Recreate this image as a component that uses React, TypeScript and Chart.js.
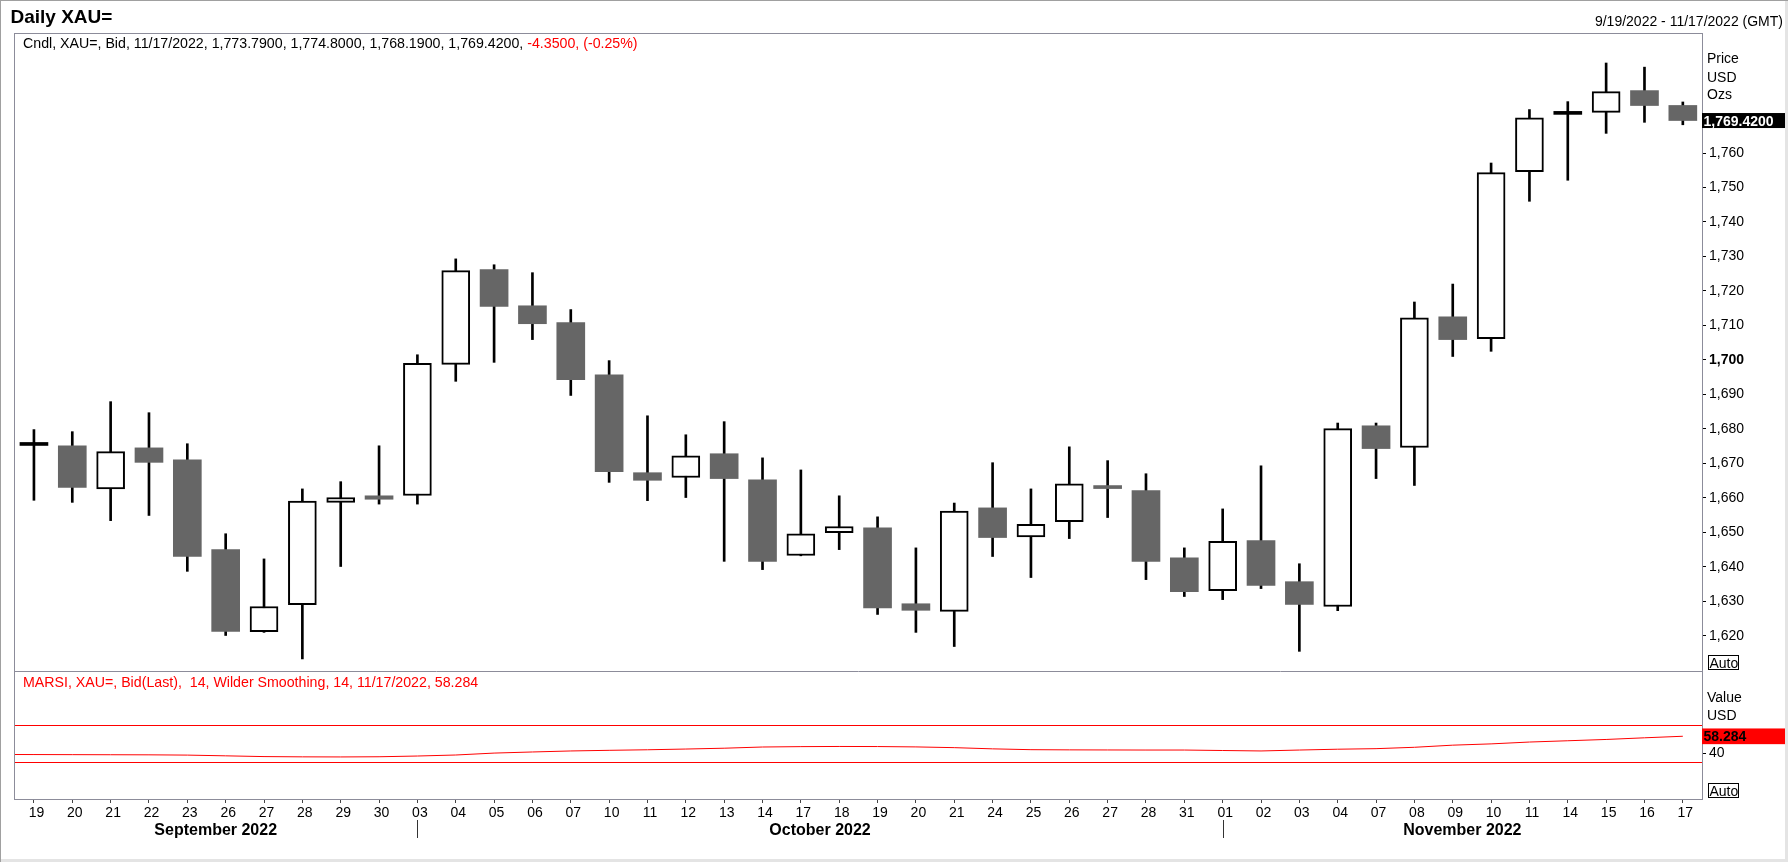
import React, { useEffect, useRef } from "react";
import { Chart, registerables } from "chart.js";

Chart.register(...registerables);

const FONT = '"Liberation Sans", Arial, Helvetica, sans-serif';
const RED = "#ff0000";
const GRAY_BODY = "#666666";

const dayLabels = [
  "19", "20", "21", "22", "23", "26", "27", "28", "29", "30",
  "03", "04", "05", "06", "07", "10", "11", "12", "13", "14", "17", "18", "19", "20", "21",
  "24", "25", "26", "27", "28", "31",
  "01", "02", "03", "04", "07", "08", "09", "10", "11", "14", "15", "16", "17",
];
const monthNames = ["September 2022", "October 2022", "November 2022"];
const monthStarts = [0, 10, 31];
const lastDate = "11/17/2022";

const opens = [
  1675.4, 1675.1, 1662.6, 1674.5, 1671.0, 1645.0, 1621.2, 1629.0, 1658.7, 1660.6,
  1660.7, 1698.7, 1726.2, 1715.7, 1710.8, 1695.7, 1667.3, 1665.9, 1672.8, 1665.2,
  1643.3, 1649.9, 1651.3, 1629.3, 1627.1, 1657.1, 1648.7, 1653.1, 1663.5, 1662.1,
  1642.6, 1633.1, 1647.6, 1635.7, 1628.5, 1680.9, 1674.6, 1712.5, 1706.2, 1754.6,
  1771.4, 1771.8, 1778.1, 1773.79,
];
const highs = [
  1679.8, 1679.2, 1687.9, 1684.7, 1675.7, 1649.6, 1642.3, 1662.6, 1664.7, 1675.1,
  1701.5, 1729.3, 1727.6, 1725.3, 1714.6, 1699.8, 1683.8, 1678.3, 1682.1, 1671.6,
  1668.1, 1660.6, 1654.5, 1645.5, 1658.5, 1670.2, 1662.6, 1674.8, 1670.8, 1667.0,
  1645.5, 1656.8, 1669.3, 1640.9, 1681.7, 1681.7, 1716.8, 1722.0, 1757.1, 1772.6,
  1774.9, 1786.1, 1784.9, 1774.8,
];
const lows = [
  1659.3, 1658.7, 1653.4, 1654.9, 1638.7, 1620.1, 1621.0, 1613.3, 1640.1, 1658.2,
  1658.2, 1693.8, 1699.3, 1705.9, 1689.7, 1664.5, 1659.2, 1660.1, 1641.6, 1639.2,
  1643.2, 1645.0, 1626.2, 1621.0, 1616.9, 1643.0, 1636.9, 1648.2, 1654.3, 1636.3,
  1631.4, 1630.5, 1633.7, 1615.5, 1627.3, 1665.6, 1663.6, 1701.0, 1702.5, 1746.0,
  1752.1, 1765.7, 1768.9, 1768.19,
];
const closes = [
  1675.2, 1663.0, 1673.4, 1670.3, 1643.0, 1621.3, 1628.5, 1659.1, 1660.1, 1659.6,
  1699.0, 1725.9, 1715.5, 1710.5, 1694.3, 1667.6, 1665.1, 1672.2, 1665.6, 1641.6,
  1649.6, 1651.7, 1628.1, 1627.4, 1656.2, 1648.5, 1652.3, 1664.1, 1662.7, 1641.6,
  1632.8, 1647.4, 1634.6, 1629.1, 1680.1, 1674.3, 1712.2, 1705.9, 1754.3, 1770.2,
  1771.2, 1777.8, 1773.77, 1769.42,
];

const marsiPrior = 38.5;
const marsi = [
  38.4, 38.3, 38.2, 38.1, 37.8, 37.0, 36.2, 35.9, 35.8, 36.0,
  36.8, 37.9, 40.0, 41.2, 42.3, 43.0, 43.6, 44.4, 45.3, 46.6,
  47.0, 47.2, 47.1, 46.7, 45.9, 44.6, 43.7, 43.5, 43.4, 43.3,
  43.3, 42.8, 42.3, 43.3, 44.2, 44.8, 46.3, 48.6, 50.0, 52.0,
  53.4, 54.8, 56.6, 58.284,
];

const priceTicks = [1620, 1630, 1640, 1650, 1660, 1670, 1680, 1690, 1700, 1710, 1720, 1730, 1740, 1750, 1760];
const marsiTicks = [40];
const marsiLevels = [70, 30];

const fmt = (v: number, d: number) =>
  v.toLocaleString("en-US", { minimumFractionDigits: d, maximumFractionDigits: d });

const overlayPlugin = {
  id: "overlay",
  beforeDatasetsDraw(chart: any) {
    const { ctx, chartArea: ca, scales } = chart;
    const r = scales.rsi;
    ctx.save();
    ctx.strokeStyle = RED;
    ctx.lineWidth = 1;
    for (const v of marsiLevels) {
      const y = Math.round(r.getPixelForValue(v)) + 0.5;
      ctx.beginPath();
      ctx.moveTo(ca.left, y);
      ctx.lineTo(ca.right, y);
      ctx.stroke();
    }
    ctx.restore();
  },
  afterDraw(chart: any) {
    const { ctx, chartArea: ca, scales } = chart;
    const xs = scales.x, yp = scales.y, yr = scales.rsi;
    const W = chart.width, H = chart.height;
    const n = closes.length - 1;
    ctx.save();

    // outer frame
    ctx.fillStyle = "#e4e4e4";
    ctx.fillRect(W - 3, 0, 3, H);
    ctx.fillRect(0, H - 3, W, 3);
    ctx.fillStyle = "#a0a0a0";
    ctx.fillRect(0, 0, W, 1);
    ctx.fillRect(0, 0, 1, H);

    // plot frame + pane separator
    ctx.strokeStyle = "#8c8c9a";
    ctx.lineWidth = 1;
    const L = Math.round(ca.left) + 0.5, T = Math.round(ca.top) + 0.5;
    const R = Math.round(ca.right) + 0.5, B = Math.round(ca.bottom) + 0.5;
    ctx.strokeRect(L, T, R - L, B - T);
    const sy = Math.round(yr.top) + 0.5;
    ctx.beginPath();
    ctx.moveTo(L, sy);
    ctx.lineTo(R, sy);
    ctx.stroke();

    ctx.textBaseline = "alphabetic";
    ctx.textAlign = "left";

    // title
    ctx.fillStyle = "#000";
    ctx.font = `bold 19px ${FONT}`;
    ctx.fillText("Daily XAU=", 10.5, 23.3);

    // date range
    ctx.font = `14px ${FONT}`;
    ctx.textAlign = "right";
    ctx.fillText("9/19/2022 - 11/17/2022 (GMT)", W - 5, 25.5);
    ctx.textAlign = "left";

    // price legend
    const chg = closes[n] - closes[n - 1];
    const pct = (chg / closes[n - 1]) * 100;
    const legBlack = `Cndl, XAU=, Bid, ${lastDate}, ${fmt(opens[n], 4)}, ${fmt(highs[n], 4)}, ${fmt(lows[n], 4)}, ${fmt(closes[n], 4)}, `;
    const legRed = `${fmt(chg, 4)}, (${pct.toFixed(2)}%)`;
    ctx.font = `14.2px ${FONT}`;
    ctx.fillStyle = "#000";
    ctx.fillText(legBlack, 23, ca.top + 14.7);
    const lw = ctx.measureText(legBlack).width;
    ctx.fillStyle = RED;
    ctx.fillText(legRed, 23 + lw, ca.top + 14.7);

    // RSI legend
    ctx.fillStyle = RED;
    ctx.fillText(`MARSI, XAU=, Bid(Last),  14, Wilder Smoothing, 14, ${lastDate}, ${marsi[n].toFixed(3)}`, 23, yr.top + 16);

    // right axis headers
    ctx.font = `14px ${FONT}`;
    const ax = ca.right + 5;
    ctx.fillStyle = "#000";
    ctx.fillText("Price", ax, ca.top + 30.3);
    ctx.fillText("USD", ax, ca.top + 48.7);
    ctx.fillText("Ozs", ax, ca.top + 66.3);
    ctx.fillText("Value", ax, yr.top + 31.3);
    ctx.fillText("USD", ax, yr.top + 49);

    // last price box
    const yc = yp.getPixelForValue(closes[n]);
    ctx.fillStyle = "#000";
    ctx.fillRect(ca.right, yc - 7.5, 83, 15);
    ctx.fillStyle = "#fff";
    ctx.font = `bold 14px ${FONT}`;
    ctx.fillText(fmt(closes[n], 4), ca.right + 1.5, yc + 5.2);

    // last RSI box
    const rc = yr.getPixelForValue(marsi[n]);
    ctx.fillStyle = RED;
    ctx.fillRect(ca.right, rc - 7.8, 83, 15.7);
    ctx.fillStyle = "#000";
    ctx.fillText(marsi[n].toFixed(3), ca.right + 1.5, rc + 5.2);

    // Auto boxes
    ctx.font = `14px ${FONT}`;
    for (const s of [yp, yr]) {
      const bx = Math.round(ca.right) + 6.5;
      const by = Math.round(s.bottom) - 15.5;
      ctx.fillStyle = "#fff";
      ctx.fillRect(bx, by, 30, 14);
      ctx.strokeStyle = "#000";
      ctx.strokeRect(bx, by, 30, 14);
      ctx.fillStyle = "#000";
      ctx.fillText("Auto", bx + 1, s.bottom - 3.3);
    }

    // month labels and separators
    ctx.font = `bold 16px ${FONT}`;
    ctx.textAlign = "center";
    ctx.strokeStyle = "#333";
    monthNames.forEach((m, k) => {
      const start = k === 0 ? ca.left : xs.getPixelForValue(monthStarts[k]);
      const end = k + 1 < monthNames.length ? xs.getPixelForValue(monthStarts[k + 1]) : ca.right;
      ctx.fillStyle = "#000";
      ctx.fillText(m, (start + end) / 2, ca.bottom + 35.5);
      if (k > 0) {
        const px = Math.round(start) + 0.5;
        ctx.beginPath();
        ctx.moveTo(px, ca.bottom + 21);
        ctx.lineTo(px, ca.bottom + 39);
        ctx.stroke();
      }
    });

    ctx.restore();
  },
};

export default function App() {
  const ref = useRef<HTMLCanvasElement | null>(null);

  useEffect(() => {
    if (!ref.current) return;
    const bodyColors = opens.map((o, i) =>
      Math.abs(closes[i] - o) < 0.5 ? "#000" : closes[i] > o ? "#fff" : GRAY_BODY
    );
    const bodyBorders = opens.map((o, i) => (closes[i] - o >= 0.5 ? 2 : 0));

    const chart = new Chart(ref.current, {
      type: "bar",
      data: {
        datasets: [
          {
            type: "bar",
            label: "body",
            data: opens.map((o, i) => ({ x: i, y: [o, closes[i]] })) as any,
            backgroundColor: bodyColors,
            borderColor: "#000",
            borderWidth: bodyBorders,
            borderSkipped: false,
            barThickness: 28,
            minBarLength: 3,
            grouped: false,
            xAxisID: "x",
            yAxisID: "y",
          } as any,
          {
            type: "bar",
            label: "wick",
            data: lows.map((l, i) => ({ x: i, y: [l, highs[i]] })) as any,
            backgroundColor: "#000",
            borderWidth: 0,
            barThickness: 2,
            grouped: false,
            xAxisID: "x",
            yAxisID: "y",
          } as any,
          {
            type: "line",
            label: "marsi",
            data: [{ x: -1, y: marsiPrior }, ...marsi.map((v, i) => ({ x: i, y: v }))] as any,
            borderColor: RED,
            borderWidth: 1,
            pointRadius: 0,
            tension: 0,
            xAxisID: "x",
            yAxisID: "rsi",
          } as any,
        ],
      },
      options: {
        animation: false,
        responsive: false,
        events: [],
        layout: { padding: { left: 14, top: 33, right: 0, bottom: 0 } },
        plugins: { legend: { display: false }, tooltip: { enabled: false } },
        scales: {
          x: {
            type: "linear",
            position: "bottom",
            min: -0.52,
            max: 43.5,
            offset: false,
            grid: { offset: false, drawOnChartArea: false, tickLength: 4, color: "#444" },
            border: { display: false },
            afterBuildTicks: (s: any) => {
              s.ticks = dayLabels.map((_, i) => ({ value: i }));
            },
            afterFit: (s: any) => {
              s.height = 63;
            },
            ticks: {
              autoSkip: false,
              maxRotation: 0,
              minRotation: 0,
              padding: 2,
              labelOffset: 2.5,
              color: "#000",
              font: { family: FONT, size: 14 },
              callback: (v: any) => dayLabels[v] ?? "",
            },
          },
          y: {
            type: "linear",
            position: "right",
            stack: "panes",
            stackWeight: 638,
            min: 1609.8,
            max: 1794.8,
            grid: { drawOnChartArea: false, tickLength: 4, color: "#000" },
            border: { display: false },
            afterBuildTicks: (s: any) => {
              s.ticks = priceTicks.map((v) => ({ value: v }));
            },
            afterFit: (s: any) => {
              s.width = 86;
            },
            ticks: {
              autoSkip: false,
              padding: 3,
              color: "#000",
              font: (c: any) => ({
                family: FONT,
                size: 14,
                weight: c.tick && c.tick.value === 1700 ? "bold" : "normal",
              }),
              callback: (v: any) => Number(v).toLocaleString("en-US"),
            },
          },
          rsi: {
            type: "linear",
            position: "right",
            stack: "panes",
            stackWeight: 128,
            min: -9.9,
            max: 129.2,
            grid: { drawOnChartArea: false, tickLength: 4, color: "#000" },
            border: { display: false },
            afterBuildTicks: (s: any) => {
              s.ticks = marsiTicks.map((v) => ({ value: v }));
            },
            afterFit: (s: any) => {
              s.width = 86;
            },
            ticks: {
              autoSkip: false,
              padding: 3,
              color: "#000",
              font: { family: FONT, size: 14 },
              callback: (v: any) => String(v),
            },
          },
        } as any,
      },
      plugins: [overlayPlugin],
    });
    return () => chart.destroy();
  }, []);

  return (
    <div style={{ position: "absolute", left: 0, top: 0, width: 1788, height: 862, background: "#fff" }}>
      <canvas ref={ref} width={1788} height={862} style={{ display: "block" }} />
    </div>
  );
}
